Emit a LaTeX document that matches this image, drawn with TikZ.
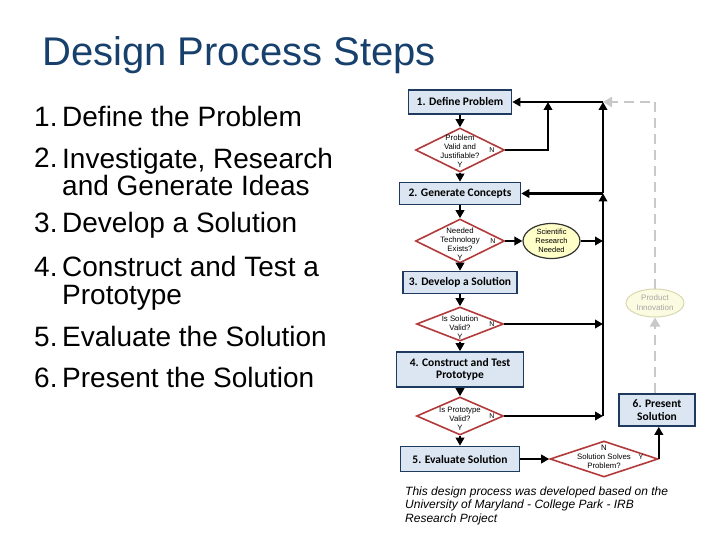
\documentclass[tikz,border=0pt]{standalone}
\usepackage{fontspec}
\setmainfont{Liberation Sans}
\newfontfamily\boxfont{Carlito}
\usetikzlibrary{arrows.meta,shapes.geometric}
\definecolor{titleBlue}{HTML}{17406D}
\definecolor{boxFill}{HTML}{DCE6F2}
\definecolor{boxDraw}{HTML}{1F3A5F}
\definecolor{decDraw}{HTML}{B23A3A}
\definecolor{sciFill}{HTML}{FFFFC8}
\definecolor{innoFill}{HTML}{FBFBE2}
\definecolor{innoDraw}{HTML}{D8D8B0}
\definecolor{innoText}{HTML}{A6A6A6}
\definecolor{dashGray}{HTML}{C8C8C8}
\tikzset{
  headline/.style={font=\fontsize{40}{44}\selectfont, text=titleBlue, inner sep=0pt},
  listitem/.style={font=\fontsize{28}{24}\selectfont, inner sep=0pt, align=left},
  stepbox/.style ={draw=boxDraw, fill=boxFill, line width=1.6pt, inner sep=0pt, align=center,
                   font=\boxfont\bfseries\fontsize{11.5}{12.5}\selectfont},
  decision/.style={diamond, draw=decDraw, fill=white, line width=1.6pt, inner sep=0pt},
  dtext/.style   ={font=\fontsize{7.8}{9}\selectfont, align=center, inner sep=0pt},
  yn/.style      ={font=\fontsize{7}{7}\selectfont, inner sep=0pt},
  research/.style={ellipse, draw=black!80, fill=sciFill, line width=1.2pt, align=center, inner sep=0pt,
                   font=\fontsize{7.5}{8.8}\selectfont},
  innov/.style   ={ellipse, draw=innoDraw, fill=innoFill, line width=1pt, text=innoText, align=center,
                   inner sep=0pt, font=\fontsize{8}{10}\selectfont},
  arr/.style     ={-{Triangle[length=8pt,width=8.5pt]}, line width=2.6pt},
  rail/.style    ={-{Triangle[length=8pt,width=8.5pt]}, line width=2pt},
  garr/.style    ={-{Triangle[length=9pt,width=10pt]}, draw=dashGray, line width=2.6pt,
                   dash pattern=on 10pt off 6pt},
  foot/.style    ={font=\itshape\fontsize{12}{13.5}\selectfont, align=left, inner sep=0pt},
}

\begin{document}
\begin{tikzpicture}[x=1pt,y=-1pt]
  \useasboundingbox (0,0) rectangle (720,540);

  % heading and the numbered steps
  \node[headline, anchor=base west] (head) at (42,66) {Design Process Steps};
  \node[listitem, anchor=base west] (n1) at (34,127) {1.};
  \node[listitem, anchor=base west] (s1) at (62,127) {Define the Problem};
  \node[listitem, anchor=base west] (n2) at (34,168) {2.};
  \node[listitem, anchor=north west] (s2) at (62,147.6) {Investigate, Research\\and Generate Ideas};
  \node[listitem, anchor=base west] (n3) at (34,233) {3.};
  \node[listitem, anchor=base west] (s3) at (62,233) {Develop a Solution};
  \node[listitem, anchor=base west] (n4) at (34,276) {4.};
  \node[listitem, anchor=north west] (s4) at (62,255.6) {Construct and Test a\\[4pt]Prototype};
  \node[listitem, anchor=base west] (n5) at (34,346) {5.};
  \node[listitem, anchor=base west] (s5) at (62,346) {Evaluate the Solution};
  \node[listitem, anchor=base west] (n6) at (34,387) {6.};
  \node[listitem, anchor=base west] (s6) at (62,387) {Present the Solution};

  % flow chart, main column
  \node[stepbox, minimum width=103, minimum height=24] (b1) at (460,102) {1. Define Problem};
  \node[decision, minimum width=89, minimum height=44,
        label={[dtext,yshift=-1.5pt]center:{Problem\\Valid and\\Justifiable?\\Y}}] (d1) at (460,150) {};
  \node[yn] (d1n) at (492,150) {N};
  \node[stepbox, minimum width=121, minimum height=22] (b2) at (460,193.5) {2. Generate Concepts};
  \node[decision, minimum width=89, minimum height=44,
        label={[dtext,yshift=-3pt]center:{Needed\\Technology\\Exists?\\Y}}] (d2) at (460,241) {};
  \node[yn] (d2n) at (493,241) {N};
  \node[research, minimum width=57, minimum height=35] (sci) at (551.5,241) {Scientific\\Research\\Needed};
  \node[stepbox, minimum width=114, minimum height=22] (b3) at (460,282.5) {3. Develop a Solution};
  \node[decision, minimum width=87, minimum height=34,
        label={[dtext,yshift=-4pt]center:{Is Solution\\Valid?\\Y}}] (d3) at (460,324) {};
  \node[yn] (d3n) at (492,324) {N};
  \node[stepbox, minimum width=127, minimum height=35] (b4) at (460,369.5) {4. Construct and Test\\Prototype};
  \node[decision, minimum width=87, minimum height=38,
        label={[dtext,yshift=-3pt]center:{Is Prototype\\Valid?\\Y}}] (d4) at (460,416) {};
  \node[yn] (d4n) at (492,416) {N};
  \node[stepbox, minimum width=119, minimum height=25] (b5) at (460,459) {5. Evaluate Solution};

  % flow chart, right side
  \node[decision, minimum width=108, minimum height=36,
        label={[dtext,yshift=2.5pt]center:{N\\Solution Solves\\Problem?}}] (d5) at (604,459) {};
  \node[yn] (d5y) at (641,457) {Y};
  \node[stepbox, minimum width=76, minimum height=32] (b6) at (657,410) {6. Present\\Solution};
  \node[innov, minimum width=58, minimum height=28] (inno) at (655,303) {Product\\Innovation};

  \coordinate (railbot) at (603,416);
  \coordinate (j1) at (548,102);

  % connectors
  \draw[arr] (b1) -- (d1);
  \draw[arr] (d1) -- (b2);
  \draw[arr] (b2) -- (d2);
  \draw[arr] (d2) -- (b3);
  \draw[arr] (b3) -- (d3);
  \draw[arr] (d3) -- (b4);
  \draw[arr] (b4) -- (d4);
  \draw[arr] (d4) -- (b5);
  \draw[arr] (b5) -- (d5);
  \draw[arr] (d5.east) -- (d5.east |- b6.south);
  \draw[arr] (d1.east) -| (j1);
  \draw[arr] (d2.east) -- (sci);
  \draw[arr] (sci) -- (sci -| railbot);
  \draw[arr] (d3.east) -- (d3.east -| railbot);
  \draw[arr] (d4.east) -- (railbot);
  \draw[rail] (railbot) -- (railbot |- b2.east);
  \draw[rail] (railbot |- b2.east) -- (railbot |- b1.east);
  \draw[arr] (railbot |- b1.east) -- (b1.east);
  \draw[arr] (railbot |- b2.east) -- (b2.east);
  \draw[garr] (b6.north -| inno) -- (inno);
  \draw[garr] (inno) |- (railbot |- b1.east);

  \node[foot, anchor=north west] (foot) at (405,486.4)
        {This design process was developed based on the\\University of Maryland - College Park - IRB\\Research Project};
\end{tikzpicture}
\end{document}
